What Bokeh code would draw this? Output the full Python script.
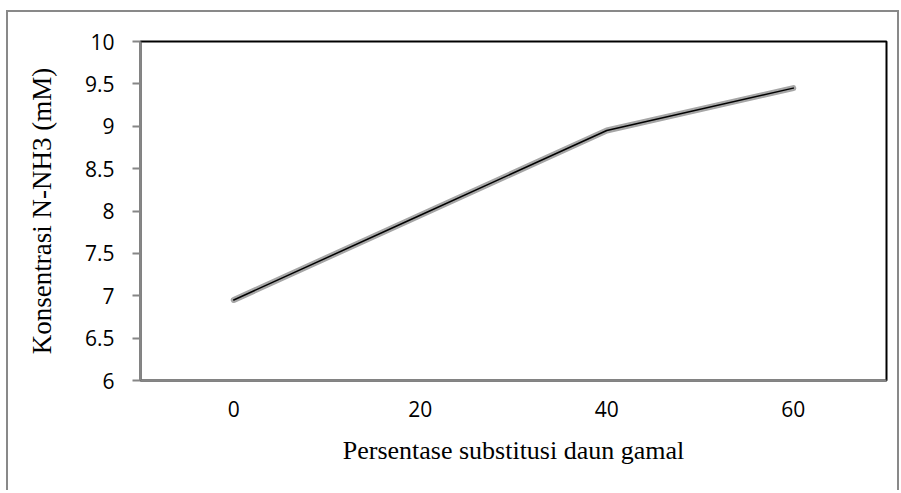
from bokeh.plotting import figure
from bokeh.embed import file_html
from bokeh.resources import INLINE
from bokeh.models import FixedTicker, Range1d

persentase = [0, 20, 40, 60]
konsentrasi = [6.95, 7.95, 8.95, 9.45]
y_ticks = [6, 6.5, 7, 7.5, 8, 8.5, 9, 9.5, 10]

p = figure(width=889, height=478, frame_width=746, frame_height=339,
           output_backend="svg", toolbar_location=None,
           x_range=Range1d(-10, 70), y_range=Range1d(6, 10),
           min_border_left=132, min_border_right=11, min_border_top=29, min_border_bottom=110)
p.styles = {"border-top": "2px solid #898989", "border-left": "2px solid #898989",
            "border-right": "2px solid #898989", "margin-top": "10px", "margin-left": "6px"}

p.grid.visible = False
p.outline_line_color = "black"
p.outline_line_width = 2

p.line(persentase, konsentrasi, line_color="#a6a6a6", line_width=6, line_cap="round", line_join="round")
p.line(persentase, konsentrasi, line_color="black", line_width=1.5, line_cap="round", line_join="round")

p.xaxis.ticker = FixedTicker(ticks=persentase)
p.yaxis.ticker = FixedTicker(ticks=y_ticks)
p.yaxis.major_label_overrides = {6.5: "6.5", 7.5: "7.5", 8.5: "8.5", 9.5: "9.5",
                                 6: "6", 7: "7", 8: "8", 9: "9", 10: "10"}

for ax in (p.xaxis[0], p.yaxis[0]):
    ax.axis_line_color = "#868686"
    ax.axis_line_width = 2
    ax.minor_tick_line_color = None
    ax.major_label_text_font = "Open Sans"
    ax.major_label_text_font_size = "21px"
    ax.major_label_text_color = "black"
    ax.axis_label_text_font = "Liberation Serif"
    ax.axis_label_text_font_style = "normal"
    ax.axis_label_text_color = "black"

p.xaxis.major_tick_line_color = None
p.xaxis.major_label_standoff = 14
p.xaxis.axis_label = "Persentase substitusi daun gamal"
p.xaxis.axis_label_text_font_size = "26px"
p.xaxis.axis_label_standoff = 16

p.yaxis.major_tick_line_color = "#868686"
p.yaxis.major_tick_line_width = 2
p.yaxis.major_tick_out = 8
p.yaxis.major_tick_in = 0
p.yaxis.major_label_standoff = 18
p.yaxis.axis_label = "Konsentrasi N-NH3 (mM)"
p.yaxis.axis_label_text_font_size = "27px"
p.yaxis.axis_label_standoff = 25

open("out.html", "w").write(file_html(p, INLINE))
